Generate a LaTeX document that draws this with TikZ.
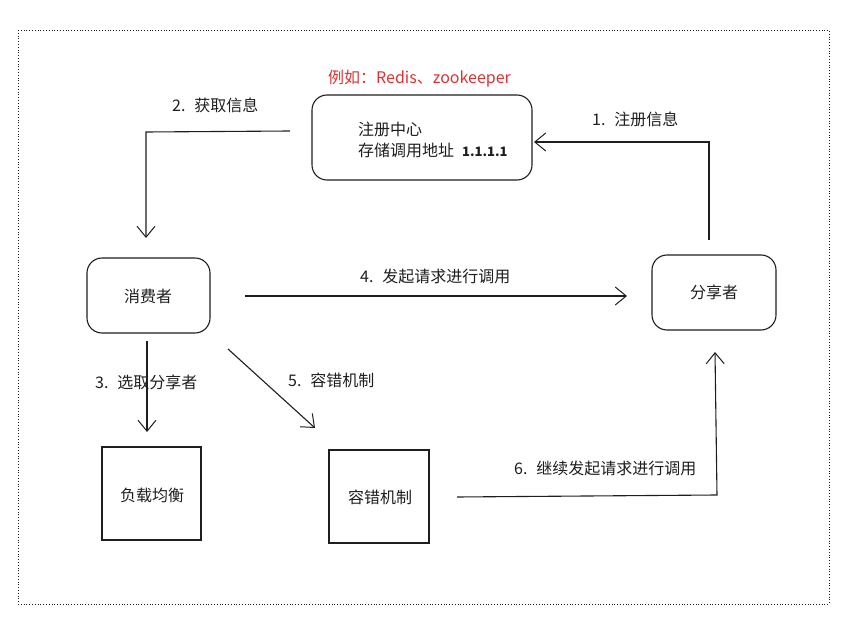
\documentclass[tikz,border=0pt]{standalone}
\usepackage{fontspec}
\setmainfont{Noto Sans CJK SC}
\usetikzlibrary{arrows.meta}
\definecolor{ink}{HTML}{1E1E1E}
\definecolor{redink}{HTML}{E03131}
\newcommand{\numsp}{\hspace{0.55em}}
\tikzset{
  rbox/.style={draw=ink, line width=1.1pt, rounded corners=15pt, inner sep=0pt},
  sbox/.style={draw=ink, line width=1.1pt, inner sep=0pt},
  conn/.style={draw=ink, line width=1.1pt, -{Straight Barb[length=11pt,width=18pt,line width=1pt]}},
  lbl/.style={anchor=west, inner sep=0pt, font=\fontsize{16}{18}\selectfont, text=ink},
  txt/.style={inner sep=0pt, font=\fontsize{16}{18}\selectfont, text=ink}
}
\begin{document}
\begin{tikzpicture}[x=1pt,y=-1pt]
\useasboundingbox (0,0) rectangle (844,631);
\draw[ink, line width=0.8pt, dotted] (18,30) rectangle (829,604);

% boxes
\node[rbox, minimum width=220pt, minimum height=85pt] (reg) at (422,137.5) {};
\node[lbl] (regt1) at (358,129) {注册中心};
\node[lbl] (regt2) at (358,150) {存储调用地址\hspace{0.5em}{\fontsize{13}{15}\selectfont\bfseries 1.1.1.1}};
\node[anchor=west, inner sep=0pt, text=redink, font=\fontsize{16}{18}\selectfont] (eg) at (328,79) {例如：Redis、zookeeper};

\node[rbox, minimum width=123pt, minimum height=75pt] (cons) at (148.5,295.5) {};
\node[txt] (const) at (148,296) {消费者};

\node[rbox, minimum width=124pt, minimum height=75pt] (shr) at (714,292.5) {};
\node[txt] (shrt) at (714,292) {分享者};

\node[sbox, minimum width=99pt, minimum height=93pt] (lb) at (151.5,493.5) {};
\node[txt] (lbt) at (152,495) {负载均衡};

\node[sbox, minimum width=100pt, minimum height=93pt] (ft) at (379,496.5) {};
\node[txt] (ftt) at (380,497) {容错机制};

% connector endpoints
\coordinate (a1s) at (709,240);
\coordinate (a1c) at (709,142);
\coordinate (a1e) at (534,142);
\coordinate (a2s) at (290,131);
\coordinate (a2c) at (146,132);
\coordinate (a2e) at (146,238);
\coordinate (a3s) at (147,341);
\coordinate (a3e) at (147,432);
\coordinate (a4s) at (245,296);
\coordinate (a4e) at (627,296);
\coordinate (a5s) at (228,349);
\coordinate (a5e) at (315,428);
\coordinate (a6s) at (457,497);
\coordinate (a6c) at (717,495);
\coordinate (a6e) at (715,352);

\draw[conn] (a1s) -- (a1c) -- (a1e);
\draw[conn] (a2s) -- (a2c) -- (a2e);
\draw[conn] (a3s) -- (a3e);
\draw[conn] (a4s) -- (a4e);
\draw[conn] (a5s) -- (a5e);
\draw[conn] (a6s) -- (a6c) -- (a6e);

% labels
\node[lbl] (l1) at (592,119) {1.\numsp 注册信息};
\node[lbl] (l2) at (172,105) {2.\numsp 获取信息};
\node[lbl] (l3) at (95,382) {3.\numsp 选取分享者};
\node[lbl] (l4) at (360,276) {4.\numsp 发起请求进行调用};
\node[lbl] (l5) at (288,380) {5.\numsp 容错机制};
\node[lbl] (l6) at (514,468) {6.\numsp 继续发起请求进行调用};
\end{tikzpicture}
\end{document}
